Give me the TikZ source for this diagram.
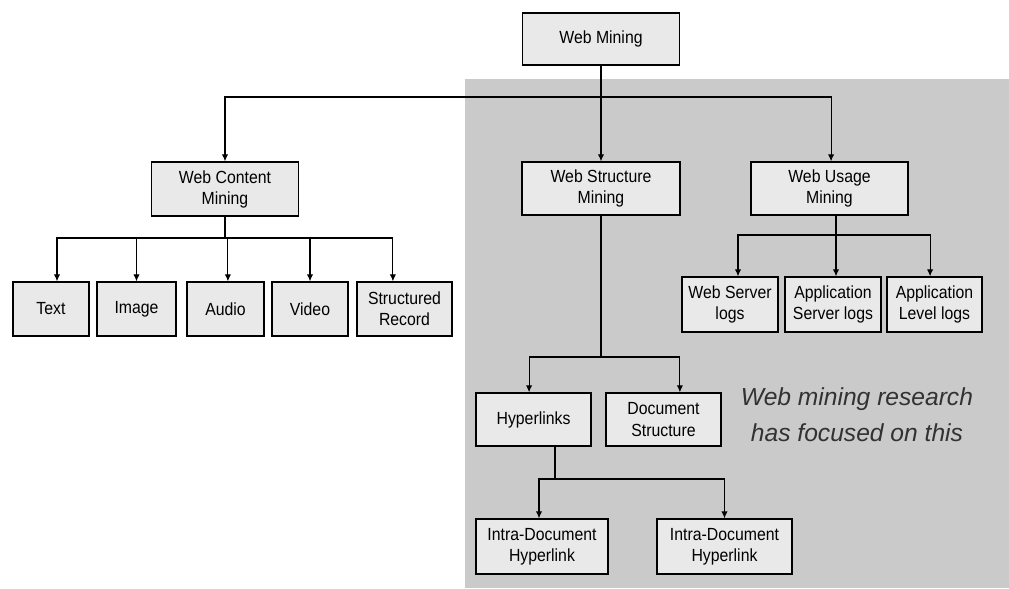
\documentclass[tikz,border=0pt]{standalone}
\usepackage{fontspec}
\setmainfont{Liberation Sans}[FakeStretch=0.9]
\newfontfamily\notefont{Liberation Sans}
\usetikzlibrary{arrows.meta}
\definecolor{bggray}{RGB}{202,202,202}
\definecolor{boxfill}{RGB}{233,233,233}
\definecolor{notegray}{RGB}{50,50,50}
\tikzset{
    box/.style={draw, fill=boxfill, line width=0.9pt, align=center, inner sep=0pt,
        minimum height=1.35cm, font=\fontsize{12.5}{15}\selectfont},
    link/.style={line width=0.8pt},
}

\begin{document}
\begin{tikzpicture}[x=0.025cm, y=-0.025cm, >={Latex[length=5pt,width=4.5pt]}]
            \useasboundingbox (0, 0) rectangle (1009, 588);
            \fill[bggray] (465, 79) rectangle (1009, 588);

            \node[box, minimum width=3.925cm, minimum height=1.3cm] (web) at (601, 39) {Web Mining};
            \node[box, minimum width=3.675cm] (content) at (225, 189) {Web Content\\Mining};
            \node[box, minimum width=3.95cm, minimum height=1.325cm] (structure) at (601, 188.5) {Web Structure\\Mining};
            \node[box, minimum width=3.925cm, minimum height=1.325cm] (usage) at (829.5, 188.5) {Web Usage\\Mining};

            \node[box, minimum width=1.9cm] (text) at (51, 309) {Text};
            \node[box, minimum width=1.975cm] (image) at (136.5, 309) {Image};
            \node[box, minimum width=1.925cm] (audio) at (225.5, 309) {Audio};
            \node[box, minimum width=1.9cm] (video) at (310, 309) {Video};
            \node[box, minimum width=2.375cm] (record) at (404.5, 309) {Structured\\Record};

            \node[box, minimum width=2.4cm, minimum height=1.375cm] (wslogs) at (730, 304.5) {Web Server\\logs};
            \node[box, minimum width=2.4cm, minimum height=1.375cm] (aslogs) at (833, 304.5) {Application\\Server logs};
            \node[box, minimum width=2.375cm, minimum height=1.375cm] (allogs) at (934.5, 304.5) {Application\\Level logs};

            \node[box, minimum width=2.875cm, minimum height=1.325cm] (hyper) at (533.5, 419.5) {Hyperlinks};
            \node[box, minimum width=2.875cm, minimum height=1.325cm] (docstruct) at (663.5, 419.5) {Document\\Structure};
            \node[box, minimum width=3.3cm, minimum height=1.375cm] (intraa) at (542, 546.5) {Intra-Document\\Hyperlink};
            \node[box, minimum width=3.375cm, minimum height=1.375cm] (intrab) at (724.5, 546.5) {Intra-Document\\Hyperlink};

            \node[font=\notefont\itshape\fontsize{17.5}{25.5}\selectfont, text=notegray, align=center] (note) at (857, 415) {Web mining research\\has focused on this};

            \coordinate (split) at (601, 97);
            \draw[link] (web.south) -- (split);
            \draw[link, ->] (split) -| (content.north);
            \draw[link, ->] (split) -- (structure.north);
            \draw[link, ->] (split) -| ([xshift=0.04cm]usage.north);

            \coordinate (cbar) at (225, 238);
            \draw[link] (content.south) -- (cbar);
            \draw[link, ->] (cbar) -| ([xshift=0.15cm]text.north);
            \draw[link, ->] (cbar) -| (image.north);
            \draw[link, ->] (cbar) -| ([xshift=0.06cm]audio.north);
            \draw[link, ->] (cbar) -| (video.north);
            \draw[link, ->] (cbar) -| ([xshift=-0.29cm]record.north);

            \coordinate (ubar) at (836, 235);
            \draw[link] (usage.south -| ubar) -- (ubar);
            \draw[link, ->] (ubar) -| ([xshift=0.2cm]wslogs.north);
            \draw[link, ->] (ubar) -| ([xshift=0.075cm]aslogs.north);
            \draw[link, ->] (ubar) -| ([xshift=-0.11cm]allogs.north);

            \coordinate (sbar) at (601, 357);
            \draw[link] (structure.south) -- (sbar);
            \draw[link, ->] (sbar) -| ([xshift=-0.11cm]hyper.north);
            \draw[link, ->] (sbar) -| ([xshift=0.41cm]docstruct.north);

            \coordinate (hbar) at (555, 479);
            \draw[link] (hyper.south -| hbar) -- (hbar);
            \draw[link, ->] (hbar) -| ([xshift=-0.075cm]intraa.north);
            \draw[link, ->] (hbar) -| (intrab.north);
        \end{tikzpicture}
\end{document}
